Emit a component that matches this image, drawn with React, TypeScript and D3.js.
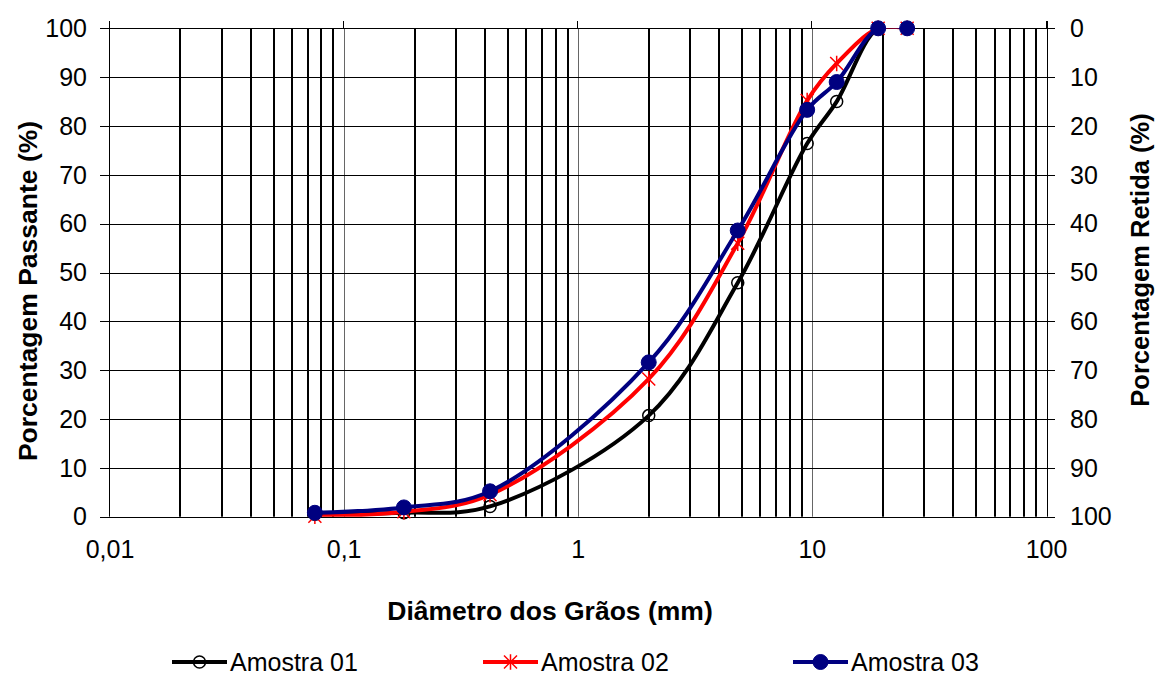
import React, { useEffect, useRef } from "react";
import * as d3 from "d3";

// Sieve openings (mm) and cumulative percent passing for each sample
const sieves = [0.075, 0.18, 0.42, 2.0, 4.8, 9.5, 12.7, 19.1, 25.4];
const amostra01 = [0.5, 0.8, 2.1, 20.7, 47.9, 76.4, 85.0, 100, 100];
const amostra02 = [0.1, 1.0, 4.5, 28.2, 56.0, 85.2, 92.8, 100, 100];
const amostra03 = [0.8, 1.9, 5.2, 31.6, 58.6, 83.3, 89.0, 100, 100];

const seriesNames = ["Amostra 01", "Amostra 02", "Amostra 03"];
const seriesColors = ["#000000", "#ff0000", "#000080"];
const seriesMarkers = ["openCircle", "star", "dot"];

const xTickValues = [0.01, 0.1, 1, 10, 100];
const xTickLabels = ["0,01", "0,1", "1", "10", "100"];
const yTickValues = [0, 10, 20, 30, 40, 50, 60, 70, 80, 90, 100];

const xTitle = "Diâmetro dos Grãos (mm)";
const yLeftTitle = "Porcentagem Passante (%)";
const yRightTitle = "Porcentagem Retida (%)";

const W = 1156;
const H = 674;
const FONT = "'Liberation Sans', Arial, Helvetica, sans-serif";

export default function App() {
  const ref = useRef<SVGSVGElement | null>(null);

  useEffect(() => {
    const svg = d3.select(ref.current);
    svg.selectAll("*").remove();

    const x = d3.scaleLog().domain([0.01, 100]).range([110, 1046.5]);
    const y = d3.scaleLinear().domain([0, 100]).range([516.7, 28.3]);
    const yRet = d3.scaleLinear().domain([100, 0]).range([516.7, 28.3]);
    const [x0, x1] = x.range();
    const [yb, yt] = y.range();

    const snap = (v: number) => Math.round(v) + 0.5;

    // minor vertical grid (2..9 in each decade)
    const minor: number[] = [];
    for (let e = -2; e < 2; e++) {
      for (let k = 2; k <= 9; k++) minor.push(k * Math.pow(10, e));
    }
    const grid = svg.append("g");
    grid
      .selectAll("line.minor")
      .data(minor)
      .join("line")
      .attr("x1", (d) => Math.round(x(d)))
      .attr("x2", (d) => Math.round(x(d)))
      .attr("y1", yt)
      .attr("y2", yb)
      .attr("stroke", "#000")
      .attr("stroke-width", 2);

    // major vertical grid at decades
    grid
      .selectAll("line.major")
      .data([0.1, 1, 10])
      .join("line")
      .attr("x1", (d) => snap(x(d)))
      .attr("x2", (d) => snap(x(d)))
      .attr("y1", yt)
      .attr("y2", yb)
      .attr("stroke", "#666")
      .attr("stroke-width", 1);

    // horizontal grid
    grid
      .selectAll("line.h")
      .data(yTickValues)
      .join("line")
      .attr("x1", x0)
      .attr("x2", x1)
      .attr("y1", (d) => snap(y(d)))
      .attr("y2", (d) => snap(y(d)))
      .attr("stroke", "#000")
      .attr("stroke-width", 1);

    // axis lines and ticks
    const axes = svg.append("g").attr("stroke", "#000").attr("stroke-width", 1);
    axes
      .append("line")
      .attr("x1", snap(x0) - 1)
      .attr("x2", snap(x0) - 1)
      .attr("y1", 21)
      .attr("y2", yb);
    axes
      .append("line")
      .attr("x1", snap(x1))
      .attr("x2", snap(x1))
      .attr("y1", 21)
      .attr("y2", yb);
    axes
      .append("line")
      .attr("x1", x0)
      .attr("x2", x1)
      .attr("y1", snap(yt))
      .attr("y2", snap(yt));
    // top decade ticks
    axes
      .selectAll("line.tt")
      .data(xTickValues)
      .join("line")
      .attr("x1", (d) => snap(x(d)) - 1)
      .attr("x2", (d) => snap(x(d)) - 1)
      .attr("y1", 21)
      .attr("y2", yt);
    // left ticks
    axes
      .selectAll("line.lt")
      .data(yTickValues)
      .join("line")
      .attr("x1", 100)
      .attr("x2", x0)
      .attr("y1", (d) => snap(y(d)))
      .attr("y2", (d) => snap(y(d)));
    // right ticks
    axes
      .selectAll("line.rt")
      .data(yTickValues)
      .join("line")
      .attr("x1", x1 - 6)
      .attr("x2", 1055)
      .attr("y1", (d) => snap(y(d)))
      .attr("y2", (d) => snap(y(d)));

    // tick labels
    const labels = svg
      .append("g")
      .attr("font-family", FONT)
      .attr("font-size", 25)
      .attr("fill", "#000");
    labels
      .selectAll("text.yl")
      .data(yTickValues)
      .join("text")
      .attr("x", 87)
      .attr("y", (d) => y(d))
      .attr("dy", "0.35em")
      .attr("text-anchor", "end")
      .text((d) => String(d));
    labels
      .selectAll("text.yr")
      .data(yTickValues)
      .join("text")
      .attr("x", 1070)
      .attr("y", (d) => yRet(d))
      .attr("dy", "0.35em")
      .attr("text-anchor", "start")
      .text((d) => String(d));
    labels
      .selectAll("text.xl")
      .data(xTickValues)
      .join("text")
      .attr("x", (d) => x(d))
      .attr("y", 558)
      .attr("text-anchor", "middle")
      .text((d, i) => xTickLabels[i]);

    // titles
    const titles = svg
      .append("g")
      .attr("font-family", FONT)
      .attr("font-size", 26.5)
      .attr("font-weight", "bold")
      .attr("fill", "#000");
    titles
      .append("text")
      .attr("x", 550)
      .attr("y", 620)
      .attr("text-anchor", "middle")
      .text(xTitle);
    titles
      .append("text")
      .attr("transform", "translate(37,291) rotate(-90)")
      .attr("text-anchor", "middle")
      .text(yLeftTitle);
    titles
      .append("text")
      .attr("transform", "translate(1149,260) rotate(-90)")
      .attr("text-anchor", "middle")
      .attr("font-size", 25.5)
      .text(yRightTitle);

    // clip for the curves
    svg
      .append("clipPath")
      .attr("id", "plotClip")
      .append("rect")
      .attr("x", x0)
      .attr("y", yt)
      .attr("width", x1 - x0)
      .attr("height", yb - yt);

    const allSeries = [amostra01, amostra02, amostra03];
    const line = d3
      .line<number>()
      .x((d, i) => x(sieves[i]))
      .y((d) => y(d))
      .curve(d3.curveCatmullRom.alpha(0.5));

    const drawMarker = (
      g: d3.Selection<SVGGElement, unknown, null, undefined>,
      kind: string,
      color: string,
      cx: number,
      cy: number
    ) => {
      if (kind === "openCircle") {
        g.append("circle")
          .attr("cx", cx)
          .attr("cy", cy)
          .attr("r", 6)
          .attr("fill", "none")
          .attr("stroke", color)
          .attr("stroke-width", 1.5);
      } else if (kind === "star") {
        const s = 6.5;
        const p = `M${cx - s},${cy - s}L${cx + s},${cy + s}M${cx - s},${cy + s}L${cx + s},${cy - s}M${cx},${cy - s * 1.2}L${cx},${cy + s * 1.2}`;
        g.append("path")
          .attr("d", p)
          .attr("fill", "none")
          .attr("stroke", color)
          .attr("stroke-width", 1.5);
      } else {
        g.append("circle")
          .attr("cx", cx)
          .attr("cy", cy)
          .attr("r", 7.5)
          .attr("fill", color)
          .attr("stroke", color)
          .attr("stroke-width", 1);
      }
    };

    allSeries.forEach((vals, si) => {
      const g = svg.append("g");
      g.append("path")
        .attr("d", line(vals) as string)
        .attr("fill", "none")
        .attr("stroke", seriesColors[si])
        .attr("stroke-width", 4)
        .attr("stroke-linejoin", "round")
        .attr("clip-path", "url(#plotClip)");
      vals.forEach((v, i) => {
        drawMarker(g as any, seriesMarkers[si], seriesColors[si], x(sieves[i]), y(v));
      });
    });

    // legend
    const legendX = [172, 483, 793];
    const ly = 662;
    seriesNames.forEach((name, si) => {
      const g = svg.append("g");
      const lx = legendX[si];
      g.append("line")
        .attr("x1", lx)
        .attr("x2", lx + 55)
        .attr("y1", ly)
        .attr("y2", ly)
        .attr("stroke", seriesColors[si])
        .attr("stroke-width", 4);
      drawMarker(g as any, seriesMarkers[si], seriesColors[si], lx + 27.5, ly);
      g.append("text")
        .attr("x", lx + 58)
        .attr("y", ly + 8.5)
        .attr("font-family", FONT)
        .attr("font-size", 25)
        .attr("fill", "#000")
        .text(name);
    });
  }, []);

  return (
    <svg
      ref={ref}
      width={W}
      height={H}
      style={{ position: "absolute", left: 0, top: 0, background: "#fff" }}
    />
  );
}
